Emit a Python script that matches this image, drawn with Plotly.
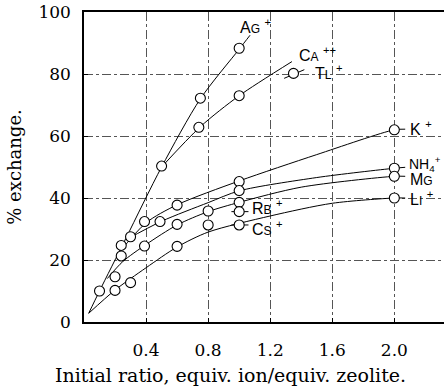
import plotly.graph_objects as go

# ---- data ----
# circles (measured points)
ag_x = [0.10, 0.24, 0.50, 0.75, 1.00]
ag_y = [10.0, 21.3, 50.3, 72.2, 88.3]
ca_x = [0.74, 1.00]
ca_y = [62.8, 73.0]
tl_x = [1.35]
tl_y = [80.2]
k_x = [0.24, 0.39, 0.60, 1.00, 2.00]
k_y = [24.7, 32.4, 37.7, 45.3, 62.0]
nh4_x = [0.30, 0.49, 1.00, 2.00]
nh4_y = [27.5, 32.4, 42.4, 49.6]
mg_x = [0.20, 0.39, 0.60, 0.80, 1.00, 2.00]
mg_y = [14.6, 24.5, 31.5, 35.8, 38.6, 47.0]
li_x = [0.20, 0.30, 0.60, 0.80, 2.00]
li_y = [10.2, 12.7, 24.4, 31.3, 40.0]
rb_x = [1.00]
rb_y = [35.6]
cs_x = [1.00]
cs_y = [31.3]

# drawn curves (hand-fitted lines in the reference)
ag_cx = [0.03, 0.10, 0.27, 0.50, 0.75, 1.00, 1.07]
ag_cy = [2.8, 10.0, 27.0, 50.0, 72.0, 88.0, 92.5]
ca_cx = [0.50, 0.75, 1.00, 1.34]
ca_cy = [50.0, 63.0, 73.0, 84.0]
tl_cx = [1.29, 1.42]
tl_cy = [78.6, 81.4]
k_cx = [0.22, 0.40, 0.60, 1.00, 1.50, 2.00, 2.07]
k_cy = [22.0, 32.0, 37.8, 45.5, 54.0, 62.0, 62.2]
nh4_cx = [0.27, 0.50, 0.80, 1.00, 1.50, 2.00, 2.07]
nh4_cy = [26.5, 32.5, 38.5, 42.3, 46.6, 49.6, 49.9]
mg_cx = [0.15, 0.25, 0.40, 0.60, 0.80, 1.00, 1.40, 2.00, 2.07]
mg_cy = [14.0, 19.5, 25.0, 31.3, 35.6, 38.6, 43.5, 47.0, 47.0]
li_cx = [0.03, 0.20, 0.40, 0.60, 0.80, 1.20, 1.60, 2.00, 2.07]
li_cy = [2.8, 10.3, 17.5, 24.2, 29.0, 34.2, 38.3, 40.0, 40.0]
rb_cx = [0.95, 1.06]
rb_cy = [35.6, 35.6]
cs_cx = [0.95, 1.06]
cs_cy = [31.3, 31.3]

# labels
lab_text = ["A<span style='font-size:12px'>G</span> <sup>+</sup>",
            "C<span style='font-size:12px'>A</span> <sup>++</sup>",
            "T<span style='font-size:12px'>L</span> <sup>+</sup>",
            "K <sup>+</sup>",
            "NH<sub>4</sub><sup>+</sup>",
            "M<span style='font-size:12px'>G</span>",
            "L<span style='font-size:12px'>I</span> <sup>+</sup>",
            "R<span style='font-size:12px'>B</span> <sup>+</sup>",
            "C<span style='font-size:12px'>S</span> <sup>+</sup>"]
lab_size = [16, 16, 16, 16, 14, 16, 16, 16, 16]
lab_x = [0.99, 1.37, 1.475, 2.085, 2.08, 2.085, 2.085, 1.07, 1.07]
lab_y = [95.5, 86.5, 80.5, 62.5, 51.0, 46.0, 40.0, 37.0, 30.2]

fig = go.Figure()

curves = [(ag_cx, ag_cy), (ca_cx, ca_cy), (tl_cx, tl_cy), (k_cx, k_cy),
          (nh4_cx, nh4_cy), (mg_cx, mg_cy), (li_cx, li_cy), (rb_cx, rb_cy),
          (cs_cx, cs_cy)]
for cx, cy in curves:
    fig.add_trace(go.Scatter(x=cx, y=cy, mode="lines",
                             line=dict(color="black", width=1.0, shape="spline", smoothing=0.8),
                             hoverinfo="skip", showlegend=False))

points = [(ag_x, ag_y), (ca_x, ca_y), (tl_x, tl_y), (k_x, k_y), (nh4_x, nh4_y),
          (mg_x, mg_y), (li_x, li_y), (rb_x, rb_y), (cs_x, cs_y)]
for px, py in points:
    fig.add_trace(go.Scatter(x=px, y=py, mode="markers",
                             marker=dict(symbol="circle", size=10, color="white",
                                         line=dict(color="black", width=1.1)),
                             showlegend=False))

for t, s, x, y in zip(lab_text, lab_size, lab_x, lab_y):
    fig.add_annotation(x=x, y=y, text=t, showarrow=False, xanchor="left", yanchor="middle",
                       font=dict(family="Liberation Sans, Arial, sans-serif", size=s, color="black"))

serif = "DejaVu Serif, Liberation Serif, serif"
fig.add_annotation(xref="paper", yref="paper", x=0.408, y=-0.171,
                   text="Initial ratio, equiv. ion/equiv. zeolite.", showarrow=False,
                   xanchor="center", yanchor="middle",
                   font=dict(family=serif, size=19, color="black"))

fig.update_layout(
    width=444, height=389,
    margin=dict(l=84, r=0, t=12, b=67),
    paper_bgcolor="white", plot_bgcolor="white",
    font=dict(family=serif, color="black"),
    xaxis=dict(range=[0, 2.32], tickvals=[0.4, 0.8, 1.2, 1.6, 2.0],
               ticktext=["0.4", "0.8", "1.2", "1.6", "2.0"],
               tickfont=dict(family=serif, size=17), ticks="inside", ticklen=4,
               tickcolor="black", ticklabelstandoff=12,
               showline=True, linecolor="black", linewidth=2, mirror=True,
               showgrid=True, gridcolor="#555", griddash="dashdot", gridwidth=0.8,
               zeroline=False),
    yaxis=dict(range=[0, 100], tickvals=[0, 20, 40, 60, 80, 100],
               tickfont=dict(family=serif, size=17), ticks="inside", ticklen=4,
               tickcolor="black", ticklabelstandoff=8,
               showline=True, linecolor="black", linewidth=1.5,
               showgrid=True, gridcolor="#555", griddash="dashdot", gridwidth=0.8,
               zeroline=False,
               title=dict(text="% exchange.", font=dict(family=serif, size=18), standoff=12)),
)

fig.write_html("out.html")
